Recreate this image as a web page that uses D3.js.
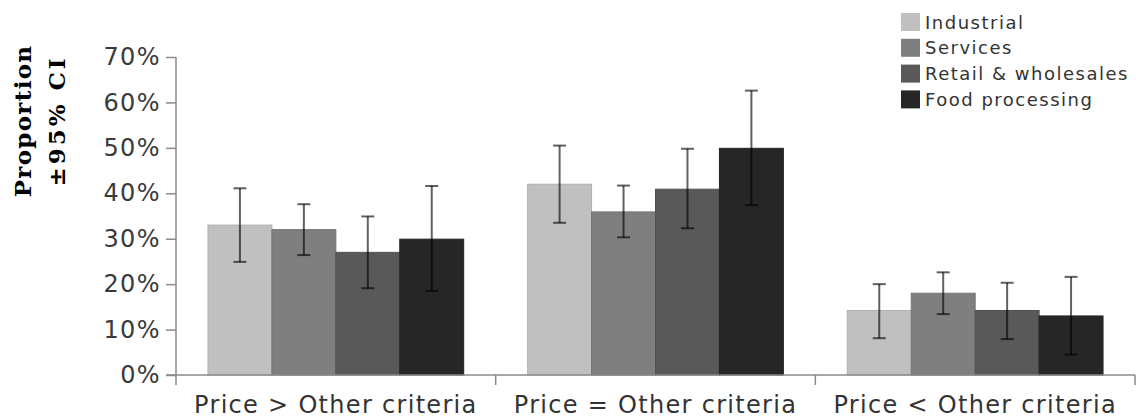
<!DOCTYPE html>
<html><head><meta charset="utf-8">
<script src="https://cdn.jsdelivr.net/npm/d3@7/dist/d3.min.js"></script>
<style>
html,body{margin:0;padding:0;background:#fff;}
svg{display:block;}
</style></head>
<body>
<svg id="chart" width="1136" height="419"></svg>
<script>
const categories = ["Price > Other criteria", "Price = Other criteria", "Price < Other criteria"];
const seriesNames = ["Industrial", "Services", "Retail & wholesales", "Food processing"];
const industrial = [0.33, 0.42, 0.142];
const services = [0.32, 0.359, 0.18];
const retail = [0.27, 0.409, 0.142];
const food = [0.299, 0.499, 0.13];
const industrialLow = [0.249, 0.335, 0.081];
const industrialHigh = [0.411, 0.505, 0.200];
const servicesLow = [0.264, 0.303, 0.134];
const servicesHigh = [0.376, 0.417, 0.226];
const retailLow = [0.191, 0.323, 0.079];
const retailHigh = [0.349, 0.498, 0.203];
const foodLow = [0.185, 0.374, 0.045];
const foodHigh = [0.416, 0.626, 0.216];
const yTicks = [0, 0.1, 0.2, 0.3, 0.4, 0.5, 0.6, 0.7];
const colors = ["#c0c0c0", "#7f7f7f", "#595959", "#262626"];

const seriesVals = [industrial, services, retail, food];
const seriesLow = [industrialLow, servicesLow, retailLow, foodLow];
const seriesHigh = [industrialHigh, servicesHigh, retailHigh, foodHigh];

const svg = d3.select("#chart");
const mLeft = 176, mRight = 1135, mTop = 57, mBottom = 375;

const y = d3.scaleLinear().domain([0, 0.7]).range([mBottom, mTop]);
const x0 = d3.scaleBand().domain(categories).range([mLeft, mRight]).padding(0);
const x1 = d3.scaleBand().domain(seriesNames).range([0, x0.bandwidth()]).paddingInner(0).paddingOuter(0.5);
const color = d3.scaleOrdinal().domain(seriesNames).range(colors);

const rows = [];
categories.forEach((c, ci) => {
  seriesNames.forEach((s, si) => {
    rows.push({c, s, v: seriesVals[si][ci], lo: seriesLow[si][ci], hi: seriesHigh[si][ci]});
  });
});

// bars
svg.append("g").selectAll("rect").data(rows).join("rect")
  .attr("x", d => x0(d.c) + x1(d.s))
  .attr("y", d => y(d.v))
  .attr("width", x1.bandwidth())
  .attr("height", d => y(0) - y(d.v))
  .attr("fill", d => color(d.s))
  .attr("stroke", d => d3.color(color(d.s)).darker(0.25))
  .attr("stroke-width", 1);

// error bars
const eb = svg.append("g").attr("stroke", "rgba(0,0,0,0.62)").attr("stroke-width", 2).attr("fill", "none");
const cap = 6.5;
rows.forEach(d => {
  const cx = x0(d.c) + x1(d.s) + x1.bandwidth() / 2;
  eb.append("line").attr("x1", cx).attr("x2", cx).attr("y1", y(d.hi)).attr("y2", y(d.lo));
  eb.append("line").attr("x1", cx - cap).attr("x2", cx + cap).attr("y1", y(d.hi)).attr("y2", y(d.hi));
  eb.append("line").attr("x1", cx - cap).attr("x2", cx + cap).attr("y1", y(d.lo)).attr("y2", y(d.lo));
});

// y axis
const yAxis = svg.append("g").attr("transform", `translate(${mLeft},0)`)
  .call(d3.axisLeft(y).tickValues(yTicks).tickFormat(d3.format(".0%")).tickSize(10).tickPadding(5));
yAxis.select(".domain").remove();
yAxis.selectAll(".tick line").attr("stroke", "#8a8a8a").attr("stroke-width", 1.5);
yAxis.selectAll("text").attr("font-family", "DejaVu Sans, Verdana, sans-serif").attr("font-size", 24)
  .attr("letter-spacing", 1.4).attr("fill", "#3a3a3a");
svg.append("line").attr("x1", mLeft).attr("x2", mLeft).attr("y1", mTop).attr("y2", mBottom + 10)
  .attr("stroke", "#8a8a8a").attr("stroke-width", 1.5);

// x axis
svg.append("line").attr("x1", mLeft - 10).attr("x2", mRight).attr("y1", mBottom).attr("y2", mBottom)
  .attr("stroke", "#8a8a8a").attr("stroke-width", 1.5);
const bounds = categories.map(c => x0(c)).concat([x0(categories[categories.length - 1]) + x0.bandwidth()]);
svg.append("g").selectAll("line").data(bounds.slice(1)).join("line")
  .attr("x1", d => d).attr("x2", d => d).attr("y1", mBottom).attr("y2", mBottom + 10)
  .attr("stroke", "#8a8a8a").attr("stroke-width", 1.5);
const xAxis = svg.append("g").attr("transform", `translate(0,${mBottom})`)
  .call(d3.axisBottom(x0).tickSize(0).tickPadding(21));
xAxis.select(".domain").remove();
xAxis.selectAll("text").attr("font-family", "DejaVu Sans, Verdana, sans-serif").attr("font-size", 24)
  .attr("letter-spacing", 1.3).attr("fill", "#333");

// y title
const yt = svg.append("text").attr("transform", "translate(31,121) rotate(-90)")
  .attr("text-anchor", "middle").attr("font-family", "DejaVu Serif, serif").attr("font-weight", "bold")
  .attr("font-size", 23).attr("fill", "#000");
yt.append("tspan").attr("x", 0).attr("dy", 0).attr("letter-spacing", 1.3).text("Proportion");
yt.append("tspan").attr("x", 0).attr("dy", 34).attr("letter-spacing", 3).text("±95% CI");

// legend
const lg = svg.append("g").attr("transform", "translate(901,13)");
const li = lg.selectAll("g").data(seriesNames).join("g").attr("transform", (d, i) => `translate(0,${i * 25.8})`);
li.append("rect").attr("width", 19).attr("height", 18).attr("fill", d => color(d));
li.append("text").attr("x", 24).attr("y", 15.5).attr("font-family", "DejaVu Sans, Verdana, sans-serif")
  .attr("font-size", 18).attr("letter-spacing", 1.5).attr("fill", "#333").text(d => d);
</script>
</body></html>
